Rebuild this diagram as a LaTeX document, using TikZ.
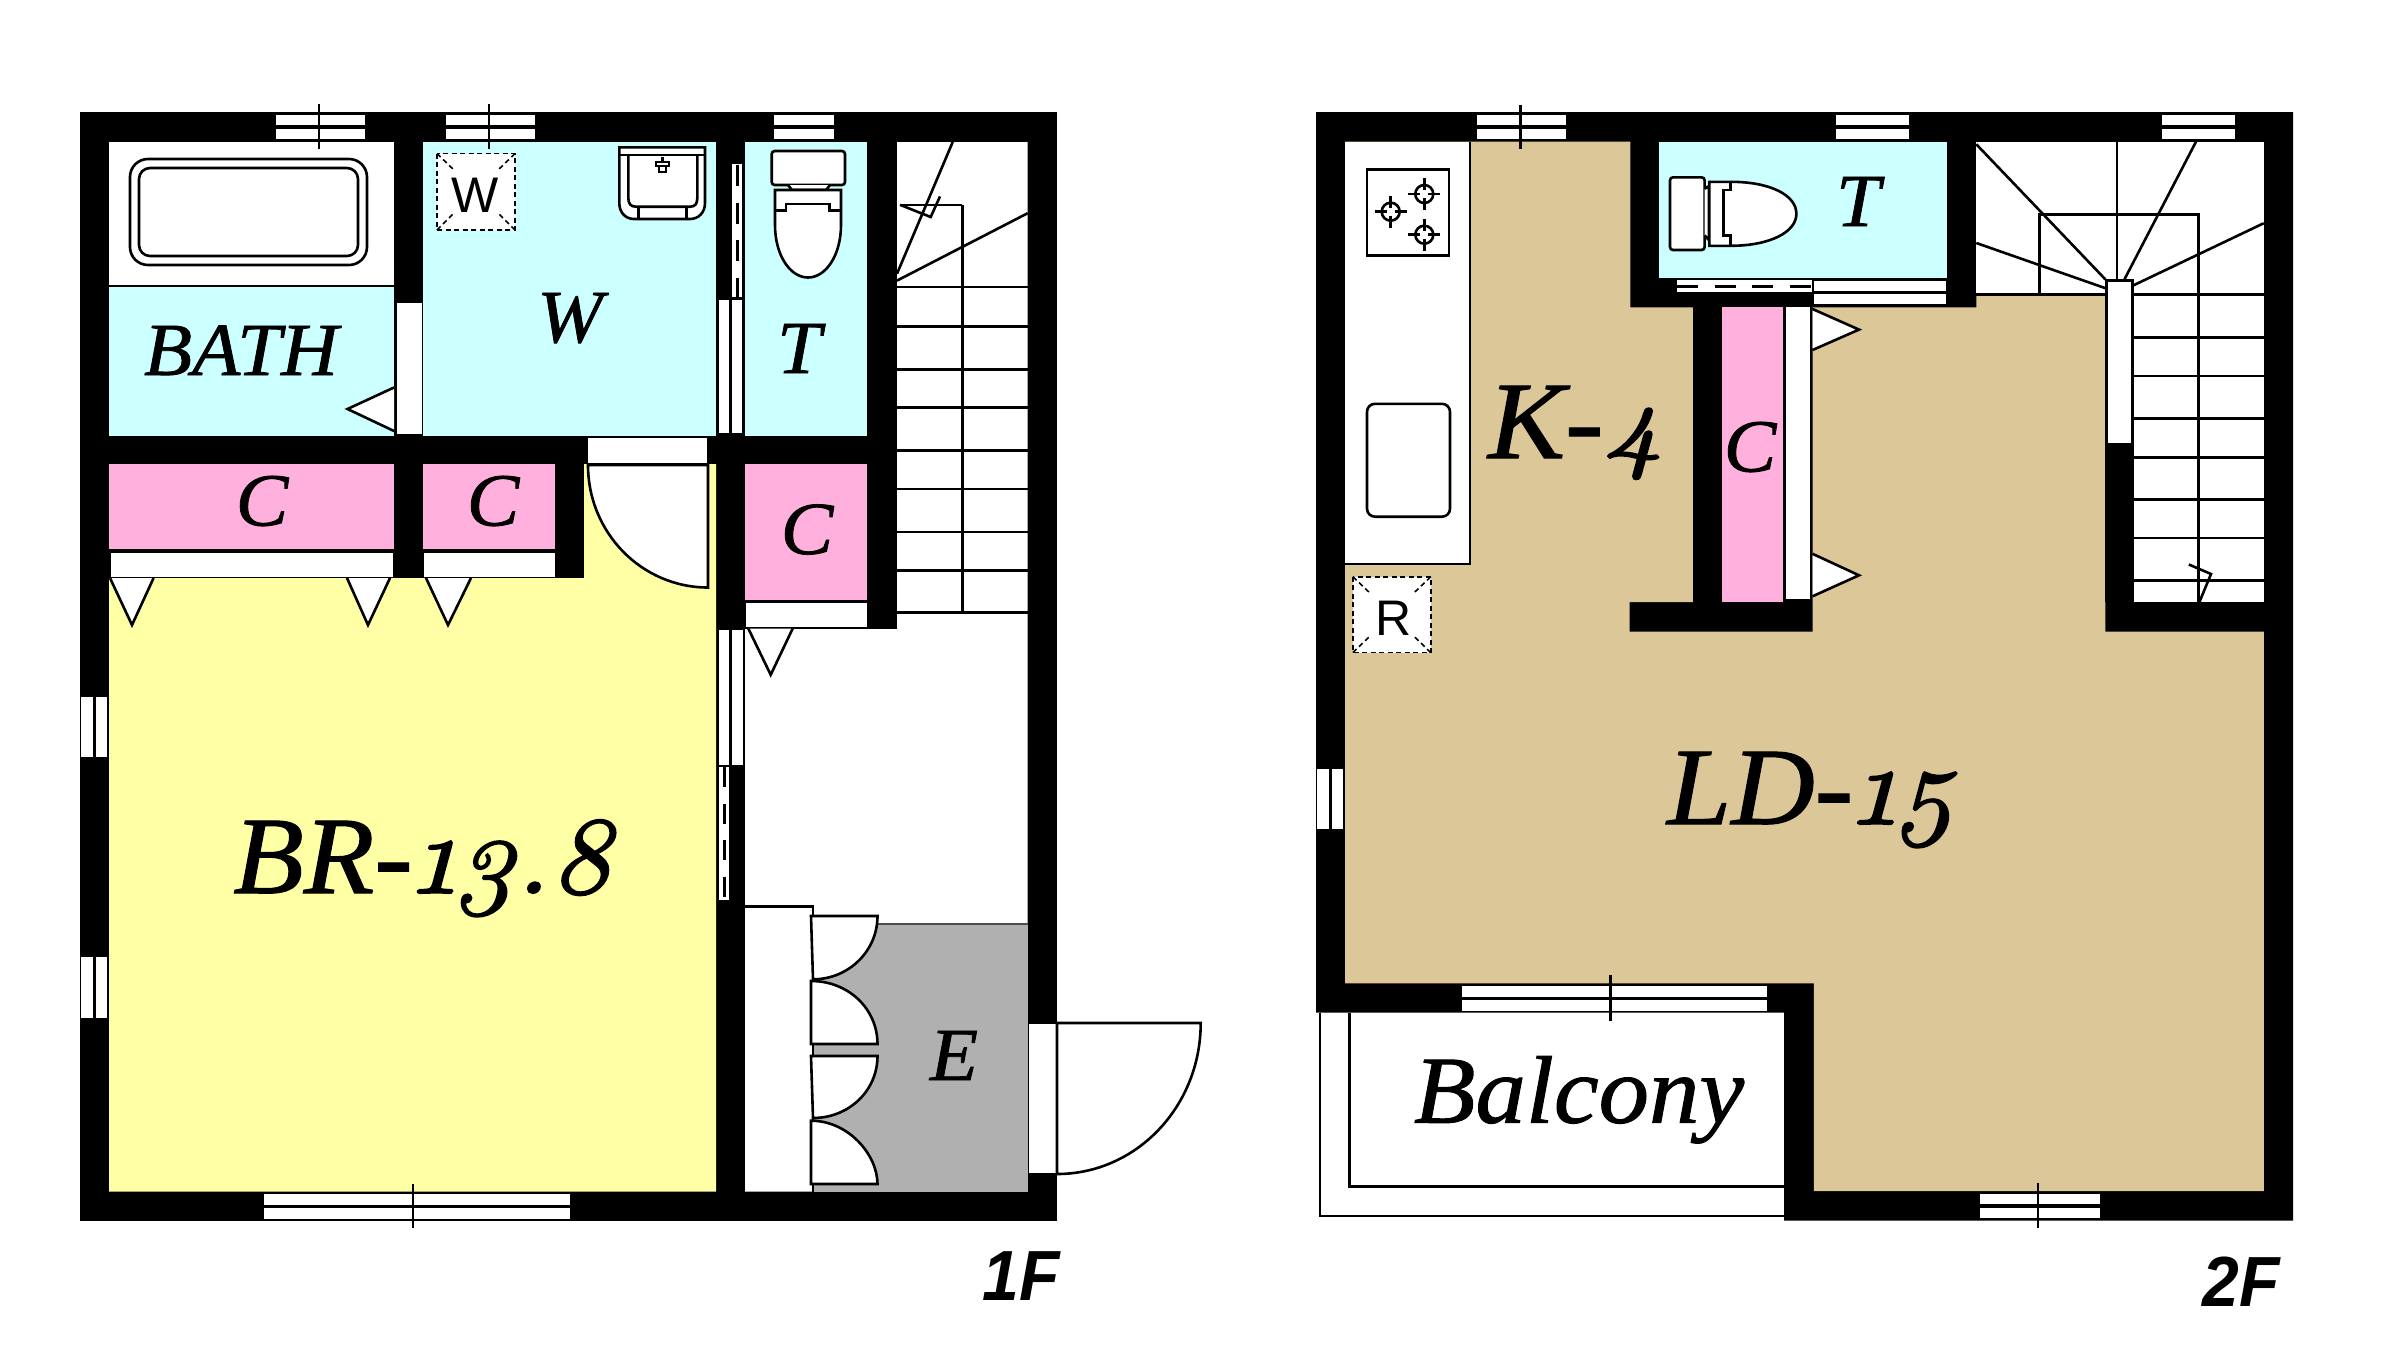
\documentclass[tikz,border=0pt]{standalone}
\usepackage{fontspec}
\setmainfont{Liberation Serif}
\newfontfamily\serifit[FakeBold=1.0,FakeStretch=1.05]{Liberation Serif}
\newfontfamily\osfont[Numbers=OldStyle,FakeBold=1.9,FakeStretch=1.08]{Latin Modern Roman}
\newfontfamily\sansfont{Liberation Sans}
\newfontfamily\floorfont[FakeStretch=0.93]{Liberation Sans}
\definecolor{cyanroom}{HTML}{CCFFFF}
\definecolor{pinkroom}{HTML}{FFB0DD}
\definecolor{yellowroom}{HTML}{FFFFA6}
\definecolor{tanroom}{HTML}{DBC798}
\definecolor{greyroom}{HTML}{B0B0B0}
\newcommand\hwin[3]{\fill[white] (#1,#3+2.5) rectangle (#2,#3+13); \fill[white] (#1,#3+16.5) rectangle (#2,#3+27);}
\newcommand\vwin[3]{\fill[white] (#1+1,#2) rectangle (#1+13,#3); \fill[white] (#1+15.5,#2) rectangle (#1+27,#3);}
\newcommand\burner[2]{\draw[ln] (#1,#2) circle[radius=9]; \draw[ln] (#1-16,#2)--(#1-4,#2) (#1+4,#2)--(#1+16,#2) (#1,#2-16)--(#1,#2-4) (#1,#2+4)--(#1,#2+16);}
\tikzset{
  x=1pt,y=-1pt,
  ln/.style={line width=2.6pt,black},
  thinln/.style={line width=2.2pt,black},
  piece/.style={ln,fill=white,line join=miter},
  dashline/.style={line width=3pt,black,dash pattern=on 21pt off 16.5pt},
  vent/.style={line width=1.6pt,black,dash pattern=on 5pt off 3.5pt},
  small/.style={inner sep=0pt,anchor=base,font=\serifit\fontsize{75}{75}\selectfont\itshape},
  big/.style={inner sep=0pt,anchor=base,font=\serifit\fontsize{110}{110}\selectfont\itshape},
  bal/.style={inner sep=0pt,anchor=base,font=\serifit\fontsize{96}{96}\selectfont\itshape},
  sanslab/.style={inner sep=0pt,anchor=base,font=\sansfont\fontsize{50}{50}\selectfont},
  floorlab/.style={inner sep=0pt,anchor=base,font=\floorfont\fontsize{71}{71}\selectfont\bfseries\itshape},
}
\begin{document}
\begin{tikzpicture}
\path[use as bounding box] (0,0) rectangle (2394,1361);
\fill[white] (0,0) rectangle (2394,1361);
%%%% 1F shell
\fill[black] (80,112) rectangle (1057,1221);
\fill[white] (109,142) rectangle (394,285.5);
\fill[cyanroom] (109,287) rectangle (394,435.5);
\fill[cyanroom] (423,142) rectangle (716,435.5);
\fill[cyanroom] (745,142) rectangle (867,435.5);
\fill[pinkroom] (109,464) rectangle (394,549);
\fill[pinkroom] (423,464) rectangle (555,549);
\fill[white] (110.5,552.5) rectangle (393,576.5);
\fill[white] (423.5,552.5) rectangle (555,576.5);
\fill[yellowroom] (109,578)--(584,578)--(584,464)--(716,464)--(716,1191.6)--(109,1191.6)--cycle;
\fill[pinkroom] (745,464) rectangle (867,600);
\fill[white] (746,602.5) rectangle (867,627);
\fill[white] (897,142)--(1027.7,142)--(1027.7,1191.7)--(745,1191.7)--(745,629)--(897,629)--cycle;
\fill[greyroom] (813,924) rectangle (1027.7,1191.7);
%% doors in wall
\fill[white] (397,302.5) rectangle (421.5,433.5);
\fill[white] (588,438) rectangle (707,463);
\draw[piece] (588,465)--(708,465)--(708,587.5) .. controls (641.7,587.5) and (588,532.7) .. (588,465)--cycle;
\draw[piece] (394,387.5)--(347.5,409)--(394,431);
%% closet door triangles
\draw[piece] (110,578)--(132,625)--(153.6,578);
\draw[piece] (347,578)--(368,625)--(390,578);
\draw[piece] (426,578)--(448,625)--(471,578);
\draw[piece] (748.3,628.5)--(770.7,674.8)--(792.7,628.5);
%% sliding doors in the wall
\fill[white] (732,163.5) rectangle (742.3,297);
\draw[dashline] (737.3,298.6)--(737.3,163.5);
\fill[white] (719,300) rectangle (729.3,433);
\fill[white] (732,300) rectangle (742.3,433);
\fill[white] (719.3,630) rectangle (729.3,765);
\fill[white] (732.3,630) rectangle (742.7,765);
\fill[white] (719.3,767) rectangle (729.3,900);
\draw[dashline,dash pattern=on 20pt off 16.5pt] (724.3,767)--(724.3,900);
%% windows
\hwin{276}{364.6}{112}
\hwin{445.7}{535}{112}
\hwin{774.3}{834}{112}
\hwin{264}{569.7}{1191.5}
\vwin{80}{696.5}{756.6}
\vwin{80}{957}{1017.6}
\draw[thinln] (319,104)--(319,149);
\draw[thinln] (488.6,104)--(488.6,149);
\draw[thinln] (413,1183.7)--(413,1228);
%% tub
\draw[piece,rounded corners=18pt] (130,159) rectangle (367,265);
\draw[piece,rounded corners=11pt] (139,168) rectangle (358,256);
\draw[thinln] (109,286)--(394,286);
%% washer
\fill[white] (437,153.6) rectangle (515,230);
\draw[vent] (437,153.6) rectangle (515,230);
\draw[vent] (437,153.6)--(455,171) (515,153.6)--(497,171) (437,230)--(455,212) (515,230)--(497,212);
%% basin
\draw[piece] (619.3,147.4)--(705,147.4)--(705,203) .. controls (705,213) and (698,219) .. (690,219)--(634,219) .. controls (626,219) and (619.3,213) .. (619.3,203)--cycle;
\draw[ln] (619.3,155)--(705,155);
\draw[ln] (628.3,155)--(628.3,198) .. controls (628.3,204) and (631,206.7) .. (636,206.7)--(690,206.7) .. controls (695,206.7) and (697.3,204) .. (697.3,198)--(697.3,155);
\draw[ln] (638.3,206.7)--(638.3,219) (686.7,206.7)--(686.7,219);
\draw[ln] (662.3,157)--(662.3,162);
\draw[ln] (656,162) rectangle (669,166);
\draw[ln] (659,166) rectangle (666,172);
%% toilet 1F
\draw[piece,rounded corners=3pt] (771.7,151) rectangle (845,185);
\draw[piece] (788,185)--(792,190)--(826,190)--(830,185);
\draw[piece] (775,190)--(841,190)--(841,225) .. controls (841,255) and (826,277.5) .. (808,277.5) .. controls (790,277.5) and (775,255) .. (775,225)--cycle;
\draw[ln] (775,210.5)--(786,210.5)--(786,204)--(829.3,204)--(829.3,210.5)--(841,210.5);
%% stairs 1F
\draw[ln] (962.3,204.8)--(962.3,612.4);
\draw[ln] (900,204.8)--(962.3,204.8);
\draw[ln] (900,204.8)--(930.7,217)--(940,196.4);
\draw[ln] (952.7,142)--(897,273.7);
\draw[ln] (1027.7,213.2)--(897,280.6);
\foreach \yy in {287,326.5,369.4,407.6,450.5,488.8,532,570.3,612.4}
  \draw[ln] (897,\yy)--(1027.7,\yy);
%% entrance
\draw[ln] (745,906.7)--(813,906.7)--(813,1191.7);
\draw[thinln,black!70] (877.5,924)--(1027.7,924);
\draw[piece] (811,916)--(877.5,916) .. controls (877.5,951) and (848.6,979.3) .. (813,979.3)--cycle;
\draw[piece] (811,981) .. controls (848.6,981) and (877.5,1009) .. (877.5,1044)--(811,1044)--cycle;
\draw[piece] (811,1056)--(877.5,1056) .. controls (877.5,1091) and (848.6,1118) .. (813,1118)--cycle;
\draw[piece] (811,1120.7) .. controls (848.6,1120.7) and (877.5,1155) .. (877.5,1184)--(811,1184)--cycle;
\fill[white] (1029,1024) rectangle (1055.5,1173);
\draw[piece] (1057,1023)--(1200.7,1023) .. controls (1200.7,1106.4) and (1136.4,1174) .. (1057,1174)--cycle;
%% 1F text
\node[small] (bath) at (241,375) {BATH};
\node[small] (wash) at (570,342) {W};
\node[small] (toilet1) at (799,373) {T};
\node[small] (c1) at (262,525.5) {C};
\node[small] (c2) at (493,525.5) {C};
\node[small] (c3) at (807,554) {C};
\node[small] (ent) at (954,1080) {E};
\node[sanslab] (wbox) at (475,212) {W};
\node[big] (br) at (422,893) {BR-{\osfont\itshape 13.8}};
\node[floorlab] (f1) at (1021,1300) {1F};
%%%% 2F shell
\fill[black] (1316,112)--(2293,112)--(2293,1220.7)--(1784,1220.7)--(1784,1012.7)--(1316,1012.7)--cycle;
\fill[tanroom] (1345,141.7)--(1630.4,141.7)--(1630.4,307.4)--(1692.9,307.4)--(1692.9,602)--(1629.6,602)--(1629.6,631.5)--(1812.5,631.5)--(1812.5,307.4)--(1976.3,307.4)--(1976.3,294.7)--(2105.4,294.7)--(2105.4,631.5)--(2263.8,631.5)--(2263.8,1191)--(1813.8,1191)--(1813.8,983.3)--(1345,983.3)--cycle;
\fill[cyanroom] (1659.3,141.7) rectangle (1947,278.3);
\fill[pinkroom] (1722,307.4) rectangle (1783,602);
\fill[white] (1786,307.4) rectangle (1810,599);
\fill[white] (1976.3,141.7) rectangle (2263.8,293.5);
\fill[white] (2133.7,293.5) rectangle (2263.8,602);
\fill[black] (2105.4,279.4) rectangle (2133.7,602);
\fill[white] (2107.5,281.5) rectangle (2131,442.8);
%% counter
\fill[white] (1345,141.7) rectangle (1470,564);
\draw[ln] (1470,141.7)--(1470,564)--(1345,564);
\draw[ln,fill=white] (1367,169.6) rectangle (1449,255.3);
\burner{1390.7}{211.7}
\burner{1424.3}{194}
\burner{1424.3}{234.7}
\draw[ln,fill=white,rounded corners=8pt] (1367,403.8) rectangle (1450,516.7);
%% fridge
\fill[white] (1352.9,576.8) rectangle (1430.7,652.6);
\draw[vent] (1352.9,576.8) rectangle (1430.7,652.6);
\draw[vent] (1352.9,576.8)--(1371,594) (1430.7,576.8)--(1412.7,594) (1352.9,652.6)--(1371,635) (1430.7,652.6)--(1412.7,635);
%% sliding doors
\fill[white] (1677,280) rectangle (1811.5,292);
\draw[dashline] (1677,286)--(1811,286);
\fill[white] (1813.5,281) rectangle (1946,291);
\fill[white] (1813.5,294) rectangle (1946,303.5);
%% closet triangles
\draw[piece] (1812.5,309)--(1859,329.6)--(1812.5,350);
\draw[piece] (1812.5,553.8)--(1859,575.3)--(1812.5,596.3);
%% windows
\hwin{1477}{1566}{112}
\hwin{1835.7}{1909}{112}
\hwin{2161.5}{2235}{112}
\hwin{1979.6}{2099.5}{1191}
\vwin{1316}{769}{829}
%% toilet 2F
\draw[piece,rounded corners=3pt] (1670,177.3) rectangle (1704.6,250);
\draw[piece] (1704.6,188.7)--(1709,186)--(1709,240)--(1704.6,235.4);
\draw[piece] (1709.3,181.8)--(1730.7,181.8) .. controls (1770,181.8) and (1796.4,195) .. (1796.4,213.8) .. controls (1796.4,232) and (1770,245.8) .. (1730.7,245.8)--(1709.3,245.8)--cycle;
\draw[ln] (1730.7,181.8)--(1730.7,190)--(1723.6,190)--(1723.6,235.4)--(1730.7,235.4)--(1730.7,245.8);
%% stairs 2F
\draw[ln] (1976.3,144.3)--(2105.4,279.4);
\draw[ln] (2116.8,141.7)--(2116.8,279.4);
\draw[ln] (2196,141.7)--(2124.4,279.4);
\draw[ln] (2263.8,223.2)--(2133.7,285.2);
\draw[ln] (1976.3,243)--(2105.4,288.2);
\draw[ln] (2039.3,294.7)--(2039.3,214.4)--(2198.4,214.4)--(2198.4,602);
\draw[ln] (1976.3,294.7)--(2105.4,294.7);
\foreach \yy in {294.7,337.6,375.9,418.4,457.4,499.5,537.8,580.6}
  \draw[ln] (2133.7,\yy)--(2263.8,\yy);
\draw[ln] (2199.4,602)--(2211,574)--(2188.8,564.5);
%% balcony
\fill[white] (1319.6,1012.7) rectangle (1784,1215.7);
\draw[thinln] (1319.6,1012.7)--(1319.6,1215.7)--(1784,1215.7);
\draw[ln] (1349.5,1012.7)--(1349.5,1186.3)--(1784,1186.3);
\hwin{1461.8}{1767}{983.5}
\draw[thinln] (1520.4,104.5)--(1520.4,149.3);
\draw[thinln] (1610.4,975)--(1610.4,1020.7);
\draw[thinln] (2038,1183.3)--(2038,1228.3);
%% 2F text
\node[big] (kit) at (1575,458) {K-{\osfont\itshape 4}};
\node[small] (toilet2) at (1858,226) {T};
\node[small] (c4) at (1750,471.5) {C};
\node[big] (ld) at (1811,824) {LD-{\osfont\itshape 15}};
\node[bal] (balc) at (1579,1122.7) {Balcony};
\node[sanslab] (rbox) at (1394,635) {R};
\node[floorlab] (f2) at (2241,1306) {2F};
\end{tikzpicture}
\end{document}
